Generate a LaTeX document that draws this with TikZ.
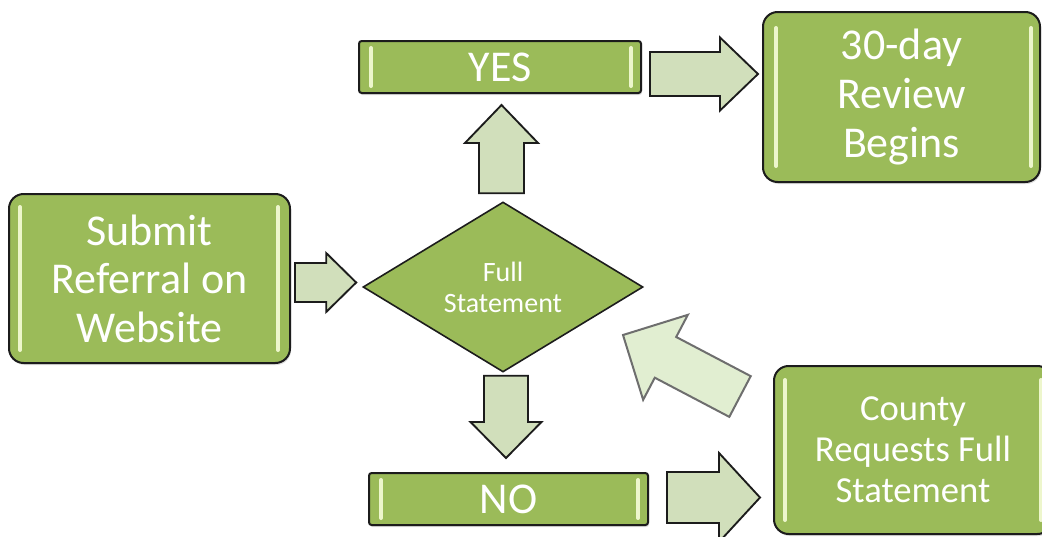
\documentclass[tikz,border=0pt]{standalone}
\usepackage{fontspec}
\setmainfont{Carlito}
\usetikzlibrary{shapes.geometric,calc,shadows}
\definecolor{boxgreen}{HTML}{9BBB59}
\definecolor{arrfill}{HTML}{D1DFBB}
\definecolor{bigfill}{HTML}{E1EED1}
\definecolor{bigedge}{HTML}{6E6E6E}
\definecolor{hilite}{HTML}{EDF6CC}
\definecolor{edgeblk}{HTML}{1C1C1C}

% block arrow: #1 style, #2 tail, #3 tip, #4 shaft half width, #5 head half width, #6 head length
\newcommand\blockarr[6]{%
  \coordinate (#2#3h) at ($(#3)!#6!(#2)$);
  \path[#1] ($(#2)!#4!90:(#3)$) -- ($(#2#3h)!#4!90:(#3)$) -- ($(#2#3h)!#5!90:(#3)$)
     -- (#3) -- ($(#2#3h)!#5!-90:(#3)$) -- ($(#2#3h)!#4!-90:(#3)$) -- ($(#2)!#4!-90:(#3)$) -- cycle;
}
% light vertical bars inside a box: #1 node, #2 left inset, #3 right inset, #4 vertical inset
\newcommand\hilites[4]{%
  \draw[hlbar] ($(#1.north west)+(#2,#4)$) -- ($(#1.south west)+(#2,-#4)$);
  \draw[hlbar] ($(#1.north east)+(-#3,#4)$) -- ($(#1.south east)+(-#3,-#4)$);
}

\tikzset{
  gbox/.style={draw=edgeblk, line width=1.5pt, fill=boxgreen, text=white, align=center,
    inner sep=0pt, drop shadow={opacity=0.25, shadow xshift=0.8pt, shadow yshift=-1.5pt}},
  bigbox/.style={gbox, rounded corners=11pt, font=\fontsize{33}{36.4}\selectfont},
  barbox/.style={gbox, rounded corners=2pt, font=\fontsize{33}{36.4}\selectfont},
  decision/.style={diamond, aspect=1.65, draw=edgeblk, line width=1.2pt, fill=boxgreen, text=white,
    align=center, inner sep=0pt, font=\fontsize{21}{23.2}\selectfont},
  smallarrow/.style={draw=edgeblk, line width=1.4pt, fill=arrfill, line join=miter},
  bigarrow/.style={draw=bigedge, line width=1.5pt, fill=bigfill, line join=miter},
  hlbar/.style={draw=hilite, line width=3pt, line cap=round},
}

\begin{document}
\begin{tikzpicture}[x=0.75pt, y=-0.75pt]
\clip (0,0) rectangle (1042,536);
\fill[white] (0,0) rectangle (1042,536);

% nodes
\node[bigbox, minimum width=210.75pt, minimum height=126.75pt] (submit) at (149.5,278.5)
  {Submit\\Referral on\\Website};
\node[decision, minimum width=210pt, minimum height=127.5pt] (full) at (503,287)
  {Full\\Statement};
\node[barbox, minimum width=211.5pt, minimum height=39pt] (yes) at (500,67) {YES};
\node[bigbox, minimum width=207.75pt, minimum height=127.5pt] (review) at (901.5,97)
  {30-day\\Review\\Begins};
\node[barbox, minimum width=209.25pt, minimum height=39pt] (no) at (508.5,499) {NO};
\node[bigbox, minimum width=208.5pt, minimum height=126pt, font=\fontsize{27.5}{30.8}\selectfont] (county) at (913,450)
  {County\\Requests Full\\Statement};

% highlights
\hilites{submit}{12}{13}{14}
\hilites{review}{14}{10}{17}
\hilites{county}{12}{12}{15}
\hilites{yes}{13}{11}{8}
\hilites{no}{13}{11}{8}

% arrow end points
\coordinate (a1t) at ($(submit.east)+(4,4)$);
\coordinate (a1p) at ($(full.west)+(-6,-4.5)$);
\coordinate (a2t) at ($(full.north)+(-1.5,-8)$);
\coordinate (a2p) at ($(yes.south)+(1.5,11)$);
\coordinate (a3t) at ($(yes.east)+(8,7)$);
\coordinate (a3p) at ($(review.west)+(-4,-23)$);
\coordinate (a4t) at ($(full.south)+(3,3)$);
\coordinate (a4p) at ($(no.north)+(-2.5,-14)$);
\coordinate (a5t) at ($(no.east)+(18,-1.5)$);
\coordinate (a5p) at ($(county.west)+(-13,47.5)$);
\coordinate (a6t) at (740,396.5);
\coordinate (a6p) at (623,335);

% arrows
\blockarr{smallarrow}{a1t}{a1p}{14.6pt}{22.1pt}{22.5pt}
\blockarr{smallarrow}{a2t}{a2p}{16.9pt}{27.4pt}{28.5pt}
\blockarr{smallarrow}{a3t}{a3p}{16.5pt}{27.4pt}{28.5pt}
\blockarr{smallarrow}{a4t}{a4p}{16.5pt}{26.6pt}{27pt}
\blockarr{smallarrow}{a5t}{a5p}{19.1pt}{33.4pt}{30.75pt}
\blockarr{bigarrow}{a6t}{a6p}{17.25pt}{36pt}{36pt}
\end{tikzpicture}
\end{document}
